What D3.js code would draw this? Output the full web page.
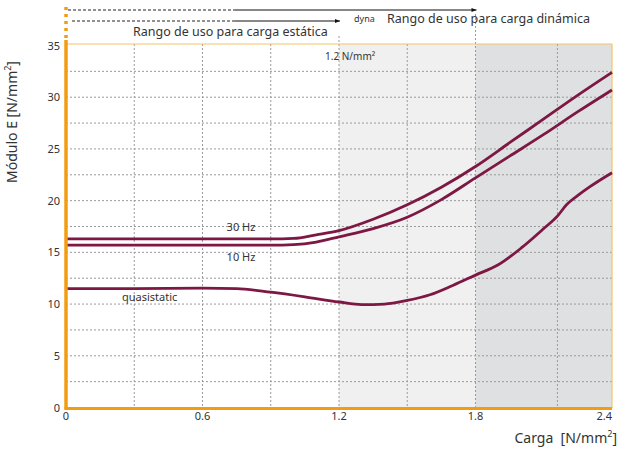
<!DOCTYPE html>
<html><head><meta charset="utf-8">
<script src="https://cdn.jsdelivr.net/npm/d3@7"></script>
<style>body{margin:0;background:#fff;} text{font-family:"Noto Sans",sans-serif;}</style>
</head><body><svg id="c" width="618" height="450"></svg>
<script>
const loadX = [0,0.3,0.6,0.9,1.0,1.1,1.2,1.35,1.5,1.65,1.8,1.95,2.1,2.25,2.4];
const hz30  = [16.3,16.3,16.3,16.3,16.35,16.7,17.1,18.2,19.6,21.3,23.3,25.6,27.9,30.2,32.4];
const hz10  = [15.7,15.7,15.7,15.7,15.75,16.0,16.5,17.3,18.4,20.1,22.2,24.3,26.4,28.6,30.7];
const qsX   = [0,0.3,0.6,0.75,0.9,1.05,1.2,1.3,1.4,1.5,1.6,1.7,1.8,1.9,2.0,2.1,2.16,2.2,2.25,2.3,2.4];
const qs    = [11.5,11.5,11.55,11.5,11.15,10.7,10.2,9.95,10.0,10.35,10.9,11.8,12.8,13.8,15.4,17.3,18.5,19.6,20.5,21.3,22.7];
const xTicks = [0,0.6,1.2,1.8,2.4];
const xGrid = [0.3,0.6,0.9,1.2,1.5,1.8,2.16];
const yTicks = [0,5,10,15,20,25,30,35];
const yGrid = [2.5,5,7.5,10,12.5,15,17.5,20,22.5,25,27.5,30,32.5];
const zones = [{from:1.2,to:1.8,fill:"#eff0ef"},{from:1.8,to:2.4,fill:"#dfe0e1"}];

const svg = d3.select("#c");
const x = d3.scaleLinear().domain([0,2.4]).range([66,612]);
const y = d3.scaleLinear().domain([0,35]).range([407.5,45.5]);
const lineColor = "#7d1743";

svg.selectAll("rect.z").data(zones).enter().append("rect")
  .attr("x",d=>x(d.from)).attr("width",d=>x(d.to)-x(d.from))
  .attr("y",44).attr("height",407.5-44).attr("fill",d=>d.fill);

const g = svg.append("g");
g.selectAll("line.h").data(yGrid).enter().append("line")
  .attr("x1",66).attr("x2",612).attr("y1",d=>y(d)).attr("y2",d=>y(d))
  .attr("stroke","#9a9a9a").attr("stroke-width",1).attr("stroke-dasharray","2,2");
g.selectAll("line.v").data(xGrid).enter().append("line")
  .attr("x1",d=>x(d)).attr("x2",d=>x(d))
  .attr("y1",d=> d===1.2?36:(d===1.8?14:44)).attr("y2",407)
  .attr("stroke","#9a9a9a").attr("stroke-width",1).attr("stroke-dasharray","2,2");

svg.append("line").attr("x1",66).attr("x2",612).attr("y1",44).attr("y2",44).attr("stroke","#f5c36a").attr("stroke-width",1.2);
svg.append("line").attr("x1",612).attr("x2",612).attr("y1",44).attr("y2",408).attr("stroke","#f5c36a").attr("stroke-width",1.2);

const line = d3.line().curve(d3.curveMonotoneX);
function draw(xs, ys){
  svg.append("path").attr("d", line(xs.map((v,i)=>[x(v),y(ys[i])])))
    .attr("fill","none").attr("stroke",lineColor).attr("stroke-width",2.8);
}
draw(loadX,hz30); draw(loadX,hz10); draw(qsX,qs);

svg.append("line").attr("x1",66).attr("x2",66).attr("y1",40).attr("y2",409.5).attr("stroke","#f39c12").attr("stroke-width",3.5);
svg.append("line").attr("x1",66).attr("x2",66).attr("y1",7).attr("y2",40).attr("stroke","#f39c12").attr("stroke-width",3.5).attr("stroke-dasharray","3,4");
svg.append("line").attr("x1",64.5).attr("x2",612).attr("y1",408.5).attr("y2",408.5).attr("stroke","#f39c12").attr("stroke-width",3);

svg.selectAll("text.yt").data(yTicks).enter().append("text")
  .attr("x",60).attr("y",d=>y(d)+4).attr("text-anchor","end")
  .attr("font-size",11).attr("fill","#333").text(d=>d);
svg.selectAll("text.xt").data(xTicks).enter().append("text")
  .attr("x",d=> d===2.4 ? 612 : x(d)).attr("y",420)
  .attr("text-anchor",d=> d===2.4 ? "end" : "middle")
  .attr("font-size",11).attr("fill","#333").text(d=>d);

svg.append("text").attr("x",617).attr("y",443).attr("text-anchor","end").attr("font-size",14).attr("fill","#333")
  .html('Carga&#160;&#160;[N/mm<tspan dy="-6" font-size="9">2</tspan><tspan dy="6">]</tspan>');
svg.append("text").attr("transform","translate(17,122) rotate(-90)").attr("text-anchor","middle").attr("font-size",14).attr("fill","#333")
  .html('Módulo E [N/mm<tspan dy="-6" font-size="9">2</tspan><tspan dy="6">]</tspan>');

svg.append("text").attr("x",241).attr("y",231).attr("text-anchor","middle").attr("font-size",11).attr("fill","#333").text("30 Hz");
svg.append("text").attr("x",241).attr("y",261).attr("text-anchor","middle").attr("font-size",11).attr("fill","#333").text("10 Hz");
svg.append("text").attr("x",122).attr("y",301).attr("font-size",11).attr("fill","#333").text("quasistatic");
svg.append("text").attr("x",325).attr("y",60).attr("font-size",10).attr("fill","#333").text("1.2 N/mm²");

const defs = svg.append("defs");
defs.append("marker").attr("id","ah").attr("viewBox","0 0 10 10").attr("refX",10).attr("refY",5)
  .attr("markerWidth",6).attr("markerHeight",5).attr("orient","auto").attr("markerUnits","userSpaceOnUse")
  .append("path").attr("d","M0,1 L10,5 L0,9 Z").attr("fill","#111");
function arrow(yy, x0, xs, x1){
  svg.append("line").attr("x1",x0).attr("x2",xs).attr("y1",yy).attr("y2",yy).attr("stroke","#222").attr("stroke-width",1).attr("stroke-dasharray","3,2");
  svg.append("line").attr("x1",xs).attr("x2",x1).attr("y1",yy).attr("y2",yy).attr("stroke","#111").attr("stroke-width",1.2).attr("marker-end","url(#ah)");
}
arrow(10, 68, 235, x(1.8)+1);
arrow(21, 72, 235, x(1.2)+1);
svg.append("text").attr("x",133).attr("y",36).attr("font-size",12.5).attr("fill","#333").text("Rango de uso para carga estática");
svg.append("text").attr("x",354).attr("y",22).attr("font-size",9).attr("fill","#333").text("dyna");
svg.append("rect").attr("x",381).attr("y",12).attr("width",6).attr("height",14).attr("fill","#fff");
svg.append("text").attr("x",387).attr("y",23).attr("font-size",12.5).attr("fill","#333").text("Rango de uso para carga dinámica");
</script></body></html>
